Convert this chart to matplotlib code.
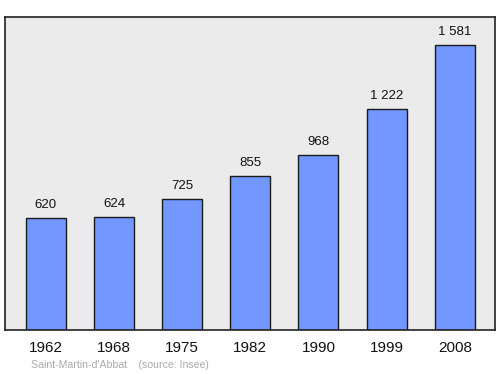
import matplotlib
matplotlib.use("Agg")
import matplotlib.pyplot as plt

years = ["1962", "1968", "1975", "1982", "1990", "1999", "2008"]
population = [620, 624, 725, 855, 968, 1222, 1581]
value_labels = ["620", "624", "725", "855", "968", "1 222", "1 581"]

plt.rcParams["font.family"] = ["Liberation Sans", "DejaVu Sans"]

fig = plt.figure(figsize=(5, 3.74), dpi=100)
ax = fig.add_axes([5 / 500, 1 - 330 / 374, 490 / 500, 313 / 374])
ax.set_facecolor("#ebebeb")

x = list(range(len(years)))
ax.bar(x, population, width=0.587, color="#7298ff", edgecolor="#1a1a1a", linewidth=1.0, zorder=2)
for xi, v, lab in zip(x, population, value_labels):
    ax.annotate(lab, (xi, v), xytext=(0, 5), textcoords="offset points",
                ha="center", va="bottom", fontsize=9.5, color="#111111")

ax.set_xlim(-0.6, 6.59)
ax.set_ylim(0, 1734)
ax.set_xticks(x)
ax.set_xticklabels(years, fontsize=11)
ax.tick_params(axis="x", length=0, pad=8, colors="#111111")
ax.set_yticks([])
for s in ax.spines.values():
    s.set_color("#222222")
    s.set_linewidth(1.2)

fig.text(31 / 500, 1 - 365 / 374, "Saint-Martin-d'Abbat    (source: Insee)",
         fontsize=7.6, color="#aaaaaa", ha="left", va="center")

fig.savefig("out.png", dpi=100)
